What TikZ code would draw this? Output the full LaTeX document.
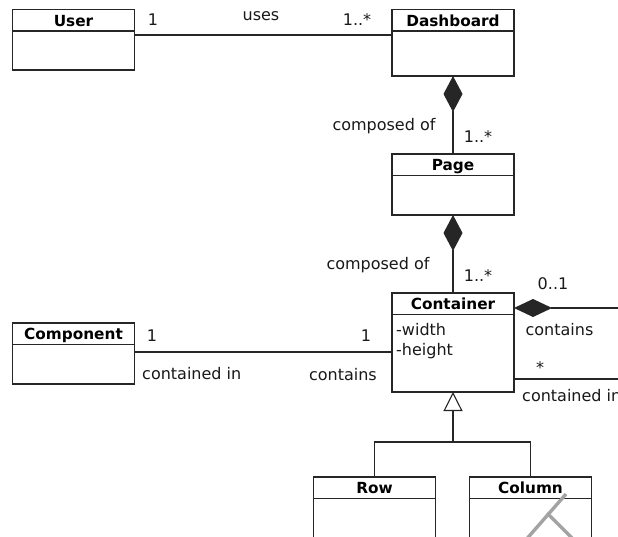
\documentclass[tikz,border=0pt]{standalone}
\usepackage{fontspec}
\setmainfont{DejaVu Sans}
\usetikzlibrary{arrows.meta}
\tikzset{
  ink/.style={draw=black!85, line width=1.1pt},
  boxink/.style={draw=black!85, line width=1.4pt},
  classbox/.style={boxink, rectangle, minimum width=122pt, inner sep=0pt, outer sep=0pt, anchor=north west},
  ctitle/.style={inner sep=0pt, anchor=base, text=black, font=\fontsize{15.3}{18}\bfseries\selectfont},
  lbl/.style={inner sep=0pt, anchor=base, text=black!90, font=\fontsize{16}{18}\selectfont},
  conn/.style={ink},
  compos/.style={ink, {Diamond[length=36pt,width=19pt]}-},
  hcompos/.style={ink, {Diamond[length=38pt,width=18pt]}-},
  gener/.style={ink, -{Triangle[open,length=19pt,width=19pt]}},
  greymark/.style={draw=black!36, line width=3.4pt}
}
\newcommand{\umlclass}[5]{%
  \node[classbox, minimum height=#4pt] (#1) at (#2,#3) {};
  \draw[boxink] ([yshift=-21.5pt]#1.north west) -- ([yshift=-21.5pt]#1.north east);
  \node[ctitle] (#1-t) at ([yshift=-16.7pt]#1.north) {#5};
}
\begin{document}
\begin{tikzpicture}[x=1pt,y=-1pt]
\useasboundingbox (0,0) rectangle (618,537);
\fill[white] (0,0) rectangle (618,537);
\clip (0,0) rectangle (618,537);

\umlclass{User}{12.5}{9.5}{60.5}{User}
\umlclass{Dashboard}{392}{9.5}{66.5}{Dashboard}
\umlclass{Page}{392}{154}{61}{Page}
\umlclass{Container}{392}{293}{99}{Container}
\umlclass{Component}{12.5}{323}{61}{Component}
\umlclass{Row}{313.5}{477}{80}{Row}
\umlclass{Column}{469.5}{477}{80}{Column}

\node[lbl, anchor=base west] (cw) at (396,335) {-width};
\node[lbl, anchor=base west] (ch) at (396,355) {-height};

% User -- Dashboard
\draw[conn] ([yshift=-25.5pt]User.north east) -- ([yshift=-25.5pt]Dashboard.north west);
\node[lbl] (m1) at (153,26) {1};
\node[lbl] (uses) at (261,21) {uses};
\node[lbl] (m2) at (357,26) {1..*};

% Dashboard -- Page
\draw[compos] (Dashboard.south) -- (Page.north);
\node[lbl] (co1) at (384,131) {composed of};
\node[lbl] (m3) at (478,143) {1..*};

% Page -- Container
\draw[compos] (Page.south) -- (Container.north);
\node[lbl] (co2) at (378,269.5) {composed of};
\node[lbl] (m4) at (478,281) {1..*};

% Container self association (runs off the right edge)
\coordinate (selfA) at (640,308);
\coordinate (selfB) at (640,379);
\draw[hcompos] ([yshift=-15pt]Container.north east) -- (selfA);
\draw[conn] ([yshift=-86pt]Container.north east) -- (selfB);
\node[lbl] (m5) at (553,289) {0..1};
\node[lbl] (ct1) at (559.5,335) {contains};
\node[lbl] (m6) at (540,373.5) {*};
\node[lbl, anchor=base west] (ci1) at (522,401) {contained in};

% Component -- Container
\draw[conn] ([yshift=-29pt]Component.north east) -- ([yshift=-59pt]Container.north west);
\node[lbl] (m7) at (152,341.5) {1};
\node[lbl, anchor=base west] (ci2) at (142,379) {contained in};
\node[lbl] (m8) at (366,341.5) {1};
\node[lbl, anchor=base east] (ct2) at (377,380) {contains};

% Generalization
\coordinate (gj) at (453,442);
\draw[conn] (Row.north) |- (gj);
\draw[conn] (Column.north) |- (gj);
\draw[gener] (gj) -- (Container.south);

% grey mark
\draw[greymark] (566,494) -- (524,542);
\draw[greymark] (547,513) -- (576,542);
\end{tikzpicture}
\end{document}
